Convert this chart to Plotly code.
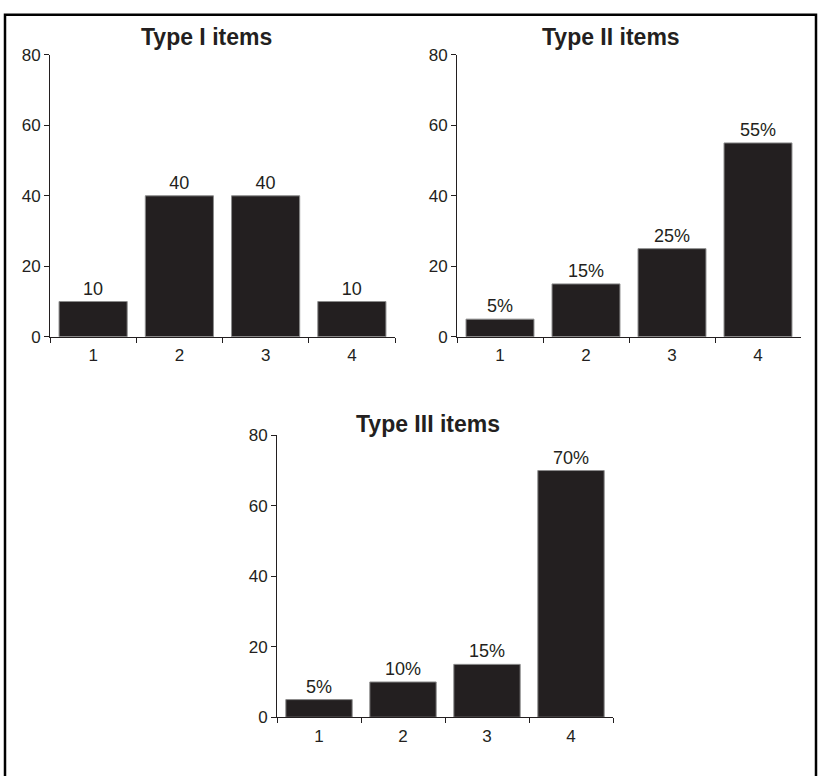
import plotly.graph_objects as go

# Response categories and percentage of items in each
categories = ["1", "2", "3", "4"]
type1_values = [10, 40, 40, 10]
type2_values = [5, 15, 25, 55]
type3_values = [5, 10, 15, 70]
panel_titles = ["Type I items", "Type II items", "Type III items"]
y_ticks = [0, 20, 40, 60, 80]

W, H = 818, 776
INK = "#231f20"
FONT = "Liberation Sans, Arial, sans-serif"


def px_x(p):
    return p / W


def px_y(p):
    return 1 - p / H


# Panel plot areas in pixels: (left, right, top, bottom)
areas = [
    (50, 395, 47, 336),
    (457, 801, 47, 336),
    (277, 613, 437, 726),
]
title_pos = [(206, 29), (611, 29), (428, 425)]
series = [
    (type1_values, "%{y}"),
    (type2_values, "%{y}%"),
    (type3_values, "%{y}%"),
]

fig = go.Figure()

for i, ((vals, tmpl), (l, r, t, b)) in enumerate(zip(series, areas), start=1):
    sfx = "" if i == 1 else str(i)
    fig.add_trace(go.Bar(
        x=categories, y=vals,
        xaxis="x" + sfx, yaxis="y" + sfx,
        marker=dict(color=INK, line=dict(color="#8c8c8c", width=1)),
        texttemplate=tmpl, textposition="outside",
        textfont=dict(family=FONT, size=18, color=INK),
        cliponaxis=False, showlegend=False, hoverinfo="skip",
    ))
    fig.layout["xaxis" + sfx] = dict(
        domain=[px_x(l), px_x(r)], anchor="y" + sfx,
        type="category", range=[-0.5, 3.5], tickson="boundaries",
        showline=True, linecolor=INK, linewidth=1,
        ticks="outside", ticklen=5, tickcolor=INK, tickwidth=1,
        ticklabelstandoff=3,
        showgrid=False, zeroline=False,
        tickfont=dict(family=FONT, size=17, color=INK),
    )
    fig.layout["yaxis" + sfx] = dict(
        domain=[px_y(b), px_y(t)], anchor="x" + sfx,
        range=[0, 80], tickvals=y_ticks,
        showline=True, linecolor=INK, linewidth=1,
        ticks="outside", ticklen=5, tickcolor=INK, tickwidth=1,
        showgrid=False, zeroline=False,
        tickfont=dict(family=FONT, size=17, color=INK),
    )
    tx, ty = title_pos[i - 1]
    fig.add_annotation(
        text="<b>%s</b>" % panel_titles[i - 1],
        x=px_x(tx), y=px_y(ty), xref="paper", yref="paper",
        xanchor="center", yanchor="middle", showarrow=False,
        font=dict(family=FONT, size=23, color=INK),
    )

# Frame around the whole figure (open at the bottom edge)
fig.add_shape(
    type="rect", xref="paper", yref="paper",
    x0=px_x(5), x1=px_x(816), y0=-0.05, y1=px_y(6),
    line=dict(color="black", width=2.5), fillcolor="rgba(0,0,0,0)",
)

fig.update_layout(
    width=W, height=H,
    margin=dict(l=0, r=0, t=0, b=0),
    paper_bgcolor="white", plot_bgcolor="white",
    bargap=0.21,
    font=dict(family=FONT, color=INK),
)

fig.write_html("out.html", config={"displayModeBar": False})
